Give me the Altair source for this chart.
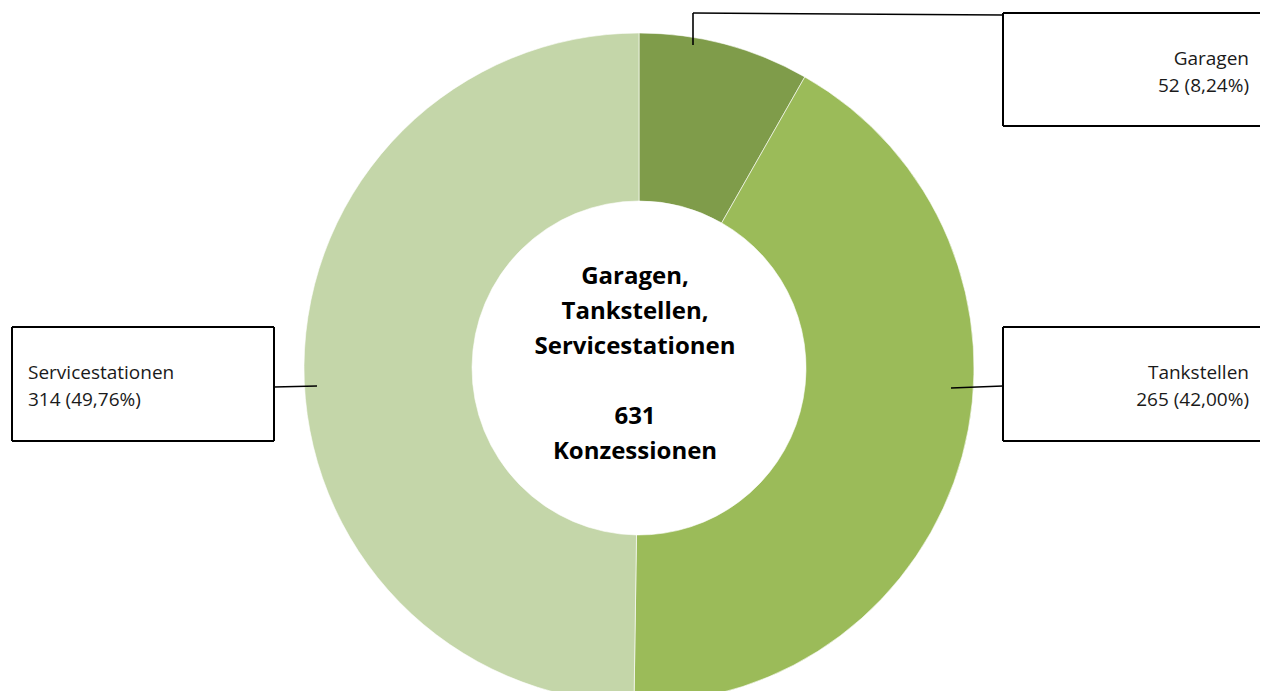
import altair as alt
import pandas as pd

# --- data ---
categories = ["Garagen", "Tankstellen", "Servicestationen"]
counts = [52, 265, 314]
percent_labels = ["8,24%", "42,00%", "49,76%"]
colors = ["#7F9C4A", "#9BBB59", "#C4D6A9"]
center_lines = ["Garagen,", "Tankstellen,", "Servicestationen", "", "631", "Konzessionen"]

M = 8  # page margin
W, H = 1268 - 2 * M, 699 - 2 * M
CX, CY = 639 - M, 368 - M

donut_df = pd.DataFrame({"cat": categories, "value": counts, "order": [0, 1, 2]})

donut = alt.Chart(donut_df).mark_arc(
    innerRadius=167, outerRadius=335, stroke="white", strokeWidth=0.6
).encode(
    theta=alt.Theta("value:Q", stack=True),
    color=alt.Color("cat:N", scale=alt.Scale(domain=categories, range=colors), legend=None),
    order=alt.Order("order:Q"),
    x=alt.value(CX),
    y=alt.value(CY),
)

# label box edges and leader lines (page coords); right-hand boxes run off the page
RX = 1300
segs = pd.DataFrame({
    "x":  [1003, 1003, 1003, 1003, 1003, 1003, 12, 12, 12, 274,
           693, 693, 951, 274],
    "x2": [RX, RX, 1003, RX, RX, 1003, 274, 274, 12, 274,
           693, 1003, 1003, 317],
    "y":  [13, 126, 13, 327, 441, 327, 327, 441, 327, 327,
           45, 13, 388, 387],
    "y2": [13, 126, 126, 327, 441, 441, 327, 441, 441, 441,
           13, 15, 386, 386],
    "w":  [2, 2, 2, 2, 2, 2, 2, 2, 2, 2, 1.6, 1.6, 1.6, 1.6],
})
for c in ["x", "x2", "y", "y2"]:
    segs[c] = segs[c] - M

line_layer = alt.Chart(segs).mark_rule(color="black").encode(
    x=alt.X("x:Q", scale=None), x2="x2:Q",
    y=alt.Y("y:Q", scale=None), y2="y2:Q",
    strokeWidth=alt.StrokeWidth("w:Q", scale=None, legend=None),
)

# label texts
lab_rows = []
anchors = [(1249, 59, "right"), (1249, 373, "right"), (28, 373, "left")]
for (ax, ay, al), cat, n, p in zip(anchors, categories, counts, percent_labels):
    lab_rows.append({"x": ax - M, "y": ay - M, "t": cat, "al": al})
    lab_rows.append({"x": ax - M, "y": ay + 27 - M, "t": f"{n} ({p})", "al": al})
lab_df = pd.DataFrame(lab_rows)

LF = "Open Sans"
lab_right = alt.Chart(lab_df[lab_df.al == "right"]).mark_text(
    align="right", baseline="middle", font=LF, fontSize=19, color="#1a1a1a"
).encode(x=alt.X("x:Q", scale=None), y=alt.Y("y:Q", scale=None), text="t:N")
lab_left = alt.Chart(lab_df[lab_df.al == "left"]).mark_text(
    align="left", baseline="middle", font=LF, fontSize=19, color="#1a1a1a"
).encode(x=alt.X("x:Q", scale=None), y=alt.Y("y:Q", scale=None), text="t:N")

# center text
c_df = pd.DataFrame({
    "t": center_lines,
    "x": [635 - M] * len(center_lines),
    "y": [277 - M + 35 * i for i in range(len(center_lines))],
})
c_df = c_df[c_df.t != ""]
center = alt.Chart(c_df).mark_text(
    align="center", baseline="middle", font=LF, fontSize=24, fontWeight="bold", color="black"
).encode(x=alt.X("x:Q", scale=None), y=alt.Y("y:Q", scale=None), text="t:N")

chart = alt.layer(donut, line_layer, lab_right, lab_left, center).properties(
    width=W, height=H, padding=0,
    autosize=alt.AutoSizeParams(type="none"),
).configure_view(stroke=None)

chart.save("out.html", embed_options={"renderer": "svg", "actions": False})
